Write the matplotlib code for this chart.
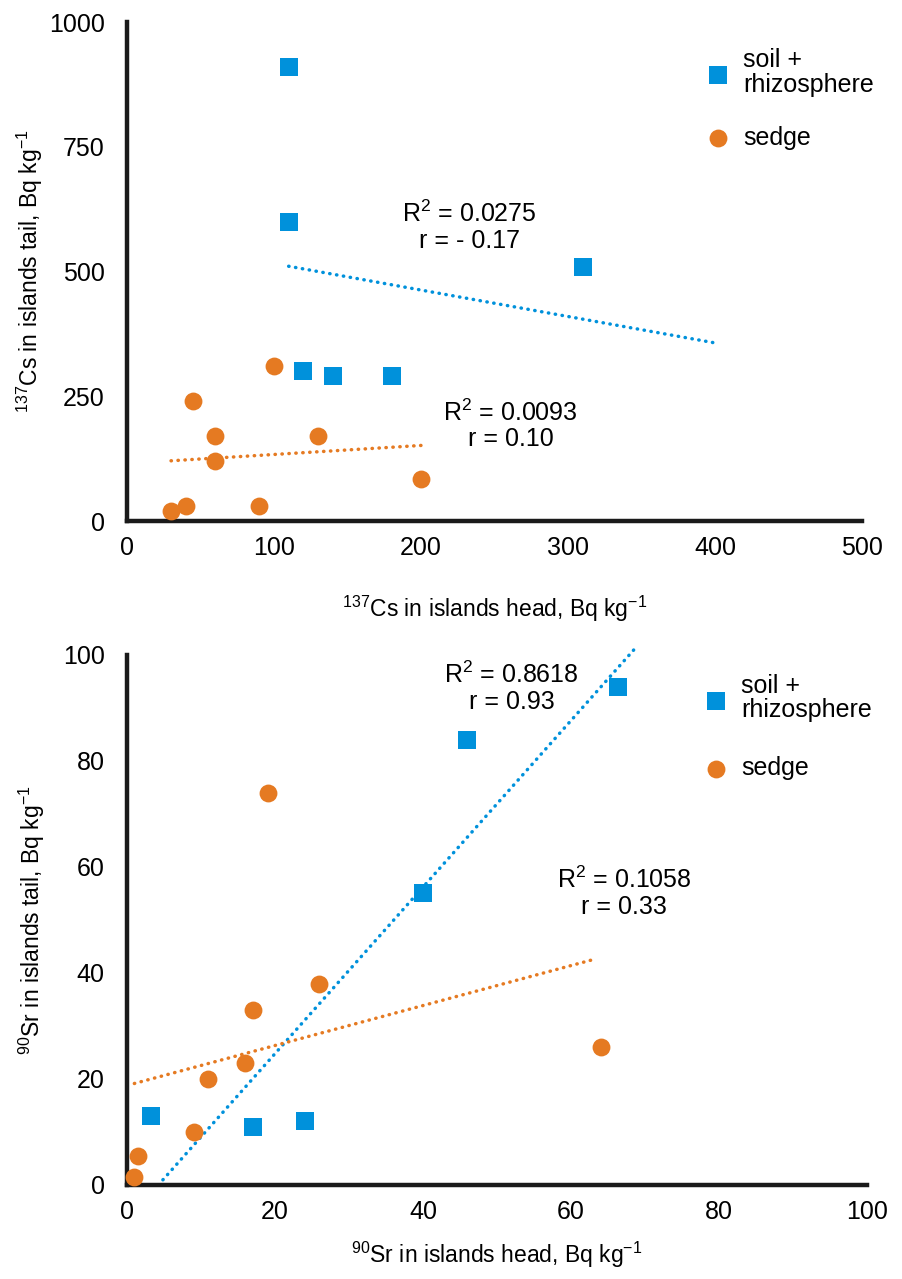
import matplotlib
matplotlib.use('Agg')
import matplotlib.pyplot as plt
import numpy as np

plt.rcParams['font.family'] = ['Liberation Sans', 'DejaVu Sans']
plt.rcParams['mathtext.fontset'] = 'custom'
plt.rcParams['mathtext.rm'] = 'Liberation Sans'
plt.rcParams['mathtext.it'] = 'Liberation Sans'

BLUE = '#0091DB'
ORANGE = '#E57A22'

# 137Cs data (top panel)
cs_soil_x = [110, 110, 310, 120, 140, 180]
cs_soil_y = [910, 600, 510, 300, 290, 290]
cs_sedge_x = [100, 45, 60, 60, 130, 200, 40, 30, 90]
cs_sedge_y = [310, 240, 170, 120, 170, 85, 30, 20, 30]

# 90Sr data (bottom panel)
sr_soil_x = [3.3, 17, 24, 40, 46, 66.3]
sr_soil_y = [13, 11, 12, 55, 84, 94]
sr_sedge_x = [1, 1.5, 9, 11, 16, 17, 19, 26, 64]
sr_sedge_y = [1.5, 5.5, 10, 20, 23, 33, 74, 38, 26]

fig = plt.figure(figsize=(9.03, 12.79), dpi=100)
ax1 = fig.add_axes([0.1406, 0.5926, 0.8140, 0.3901])
ax2 = fig.add_axes([0.1406, 0.0735, 0.8195, 0.4144])


def trend(ax, x, y, x0, x1, color, ymin=None):
    # least-squares line like the spreadsheet trendline
    a, b = np.polyfit(x, y, 1)
    if ymin is not None and a * x0 + b < ymin:
        x0 = (ymin - b) / a
    xs = np.array([x0, x1])
    ax.plot(xs, a * xs + b, color=color, lw=2.5, ls=(0, (0.1, 1.9)),
            dash_capstyle='round', clip_on=False, zorder=2)


def style(ax):
    for s in ['top', 'right']:
        ax.spines[s].set_visible(False)
    for s in ['left', 'bottom']:
        ax.spines[s].set_linewidth(3.2)
        ax.spines[s].set_color('#1a1a1a')
    ax.tick_params(length=0, labelsize=18)
    ax.tick_params(axis='x', pad=11)
    ax.tick_params(axis='y', pad=16)


def legend(ax, x, y, spacing):
    leg = ax.legend(loc='upper left', bbox_to_anchor=(x, y), frameon=False,
                    fontsize=18, handlelength=1.0, handletextpad=0.5,
                    labelspacing=spacing, scatterpoints=1, borderpad=0,
                    borderaxespad=0)
    for t in leg.get_texts():
        t.set_linespacing(1.05)


# Top panel
ax1.scatter(cs_soil_x, cs_soil_y, marker='s', s=155, color=BLUE, lw=0, zorder=3,
            label='soil +\nrhizosphere', clip_on=False)
ax1.scatter(cs_sedge_x, cs_sedge_y, marker='o', s=165, color=ORANGE, lw=0, zorder=3,
            label='sedge', clip_on=False)
trend(ax1, cs_soil_x, cs_soil_y, 110, 400, BLUE)
trend(ax1, cs_sedge_x, cs_sedge_y, 30, 200, ORANGE)
ax1.set_xlim(0, 500)
ax1.set_ylim(0, 1000)
ax1.set_xticks([0, 100, 200, 300, 400, 500])
ax1.set_yticks([0, 250, 500, 750, 1000])
style(ax1)
ax1.set_xlabel(r'$^{137}$Cs in islands head, Bq kg$^{-1}$', fontsize=16.5)
ax1.set_ylabel(r'$^{137}$Cs in islands tail, Bq kg$^{-1}$', fontsize=16.5)
ax1.xaxis.set_label_coords(0.5, -0.145)
ax1.yaxis.set_label_coords(-0.112, 0.5)
ax1.text(233, 589, 'R$^{2}$ = 0.0275\nr = - 0.17', ha='center', va='center',
         fontsize=18, linespacing=1.1)
ax1.text(261, 192, 'R$^{2}$ = 0.0093\nr = 0.10', ha='center', va='center',
         fontsize=18, linespacing=1.1)
legend(ax1, 0.787, 0.948, 1.15)

# Bottom panel
ax2.scatter(sr_soil_x, sr_soil_y, marker='s', s=155, color=BLUE, lw=0, zorder=3,
            label='soil +\nrhizosphere', clip_on=False)
ax2.scatter(sr_sedge_x, sr_sedge_y, marker='o', s=165, color=ORANGE, lw=0, zorder=3,
            label='sedge', clip_on=False)
trend(ax2, sr_soil_x, sr_soil_y, 3.3, 68.5, BLUE, ymin=0)
trend(ax2, sr_sedge_x, sr_sedge_y, 1, 63.5, ORANGE)
ax2.set_xlim(0, 100)
ax2.set_ylim(0, 100)
ax2.set_xticks([0, 20, 40, 60, 80, 100])
ax2.set_yticks([0, 20, 40, 60, 80, 100])
style(ax2)
ax2.set_xlabel(r'$^{90}$Sr in islands head, Bq kg$^{-1}$', fontsize=16.5)
ax2.set_ylabel(r'$^{90}$Sr in islands tail, Bq kg$^{-1}$', fontsize=16.5)
ax2.xaxis.set_label_coords(0.5, -0.103)
ax2.yaxis.set_label_coords(-0.108, 0.5)
ax2.text(52, 93.8, 'R$^{2}$ = 0.8618\nr = 0.93', ha='center', va='center',
         fontsize=18, linespacing=1.1)
ax2.text(67.2, 55.2, 'R$^{2}$ = 0.1058\nr = 0.33', ha='center', va='center',
         fontsize=18, linespacing=1.1)
legend(ax2, 0.779, 0.965, 1.35)

plt.savefig('out.png', dpi=100)
